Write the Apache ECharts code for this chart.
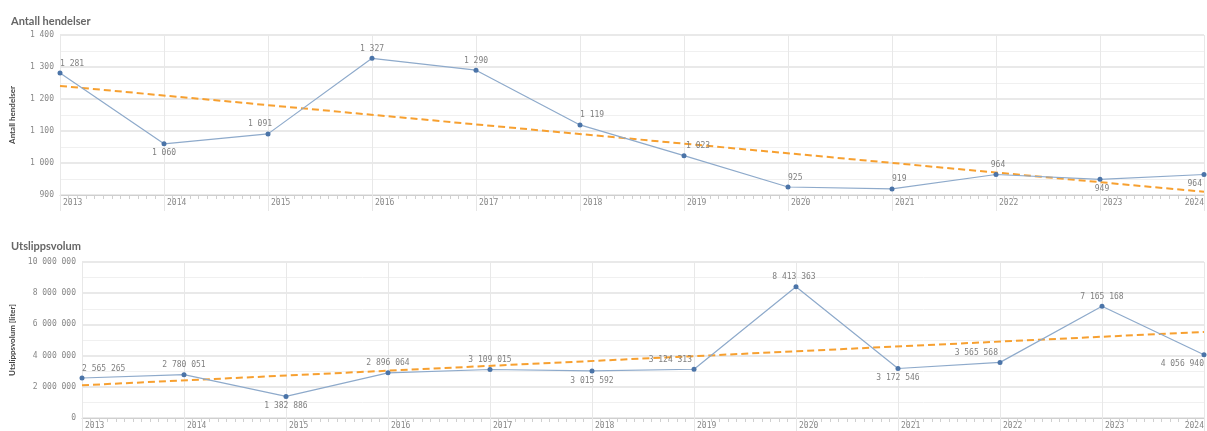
<!DOCTYPE html>
<html>
<head>
<meta charset="utf-8">
<script src="https://cdn.jsdelivr.net/npm/echarts@6/dist/echarts.min.js"></script>
<style>
  html,body{margin:0;padding:0;background:#fff;}
  #main{width:1207px;height:431px;}
</style>
</head>
<body>
<div id="main"></div>
<script>
// år
var years=[2013,2014,2015,2016,2017,2018,2019,2020,2021,2022,2023,2024];
// antall hendelser
var hendelser=[1281,1060,1091,1327,1290,1119,1023,925,919,964,949,964];
// utslippsvolum (liter)
var volum=[2565265,2780051,1382886,2896064,3109015,3015592,3124313,8413363,3172546,3565568,7165168,4056940];
// trendlinjer, start og slutt
var trendHendelser=[1241,910];
var trendVolum=[2100000,5520000];
// plassering av dataetiketter
var posHendelser=[['top','left',0],['bottom','center',0],['top','center',-8],['top','center',0],['top','center',0],['top','left',0],['top','left',2],['top','left',0],['top','left',0],['top','center',2],['bottom','center',2],['bottom','right',-2]];
var posVolum=[['top','left',0],['top','center',0],['bottom','center',0],['top','center',0],['top','center',0],['bottom','center',0],['top','right',-2],['top','center',-2],['bottom','center',0],['top','right',-2],['top','center',0],['bottom','right',0]];

var numFmt=function(v){
  return String(v).replace(/\B(?=(\d{3})+(?!\d))/g,' ');
};
var monoFont='DejaVu Sans Mono';

var makeData=function(vals,pos){
  var out=[];
  vals.forEach(function(v,i){
    out.push({
      value:[years[i],v],
      label:{position:pos[i][0],align:pos[i][1],offset:[pos[i][2],0]}
    });
  });
  return out;
};

var xAxisBase=function(idx){
  return {
    type:'value',gridIndex:idx,min:2013,max:2024,interval:1,
    axisLine:{show:true,lineStyle:{color:'#cfcfcf',width:1}},
    axisTick:{show:true,length:16,lineStyle:{color:'#e6e6e6',width:1}},
    minorTick:{show:true,splitNumber:12,length:4,lineStyle:{color:'#d0d0d0'}},
    splitLine:{show:true,lineStyle:{color:'#e8e8e8',width:1}},
    axisLabel:{
      formatter:function(v){return String(v);},
      align:'left',alignMaxLabel:'right',padding:[0,0,0,3],
      margin:4,fontFamily:monoFont,fontSize:8,color:'#888'
    }
  };
};

var yAxisBase=function(idx,min,max,interval,name,gap){
  return {
    type:'value',gridIndex:idx,min:min,max:max,interval:interval,
    name:name,nameLocation:'middle',nameGap:gap,
    nameTextStyle:{fontFamily:'Lato',fontWeight:'bold',fontSize:8,color:'#444'},
    axisLine:{show:false},
    axisTick:{show:false},
    splitLine:{show:true,lineStyle:{color:'#e2e2e2',width:1.5}},
    minorTick:{show:false,splitNumber:2},
    minorSplitLine:{show:true,lineStyle:{color:'#f0f0f0',width:1}},
    axisLabel:{formatter:numFmt,fontFamily:monoFont,fontSize:8,color:'#888',margin:6}
  };
};

var lineSeries=function(idx,data){
  return {
    type:'line',xAxisIndex:idx,yAxisIndex:idx,data:data,
    symbol:'circle',symbolSize:5,z:3,
    itemStyle:{color:'#4b74a8'},
    lineStyle:{color:'#8eaacb',width:1.2},
    label:{show:true,formatter:function(p){return numFmt(p.value[1]);},
      fontFamily:monoFont,fontSize:8,color:'#808080',distance:3}
  };
};

var trendSeries=function(idx,vals){
  return {
    type:'line',xAxisIndex:idx,yAxisIndex:idx,
    data:[[years[0],vals[0]],[years[years.length-1],vals[1]]],
    showSymbol:false,z:2,
    lineStyle:{color:'#f7a030',width:2,type:[7,4]}
  };
};

var chart=echarts.init(document.getElementById('main'));
chart.setOption({
  animation:false,
  title:[
    {text:'Antall hendelser',left:6,top:11,textStyle:{fontFamily:'Lato',fontWeight:'bold',fontSize:11,color:'#666'}},
    {text:'Utslippsvolum',left:6,top:236,textStyle:{fontFamily:'Lato',fontWeight:'bold',fontSize:11,color:'#666'}}
  ],
  grid:[
    {left:58,right:0,top:35,height:160},
    {left:80,right:0,top:262,height:156}
  ],
  xAxis:[xAxisBase(0),xAxisBase(1)],
  yAxis:[
    yAxisBase(0,900,1400,100,'Antall hendelser',44),
    yAxisBase(1,0,10000000,2000000,'Utslippsvolum [liter]',66)
  ],
  series:[
    trendSeries(0,trendHendelser),
    lineSeries(0,makeData(hendelser,posHendelser)),
    trendSeries(1,trendVolum),
    lineSeries(1,makeData(volum,posVolum))
  ]
});
</script>
</body>
</html>
